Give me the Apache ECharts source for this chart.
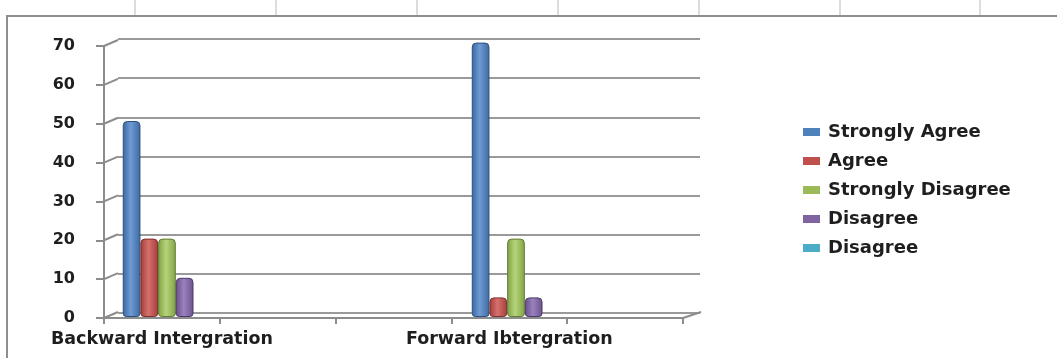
<!DOCTYPE html>
<html>
<head>
<meta charset="utf-8">
<script src="https://cdn.jsdelivr.net/npm/echarts@6/dist/echarts.min.js"></script>
<style>
html,body{margin:0;padding:0;background:#fff;}
#chart{width:1057px;height:358px;}
</style>
</head>
<body>
<div id="chart"></div>
<script>
// ---- data ----
var categories = ['Backward Intergration', '', '', 'Forward Ibtergration', ''];
var seriesNames = ['Strongly Agree', 'Agree', 'Strongly Disagree', 'Disagree', 'Disagree '];
var stronglyAgree    = [50, null, null, 70, null];
var agree            = [20, null, null, 5, null];
var stronglyDisagree = [20, null, null, 20, null];
var disagree         = [10, null, null, 5, null];
var disagree2        = [null, null, null, null, null];
var yTicks = [0, 10, 20, 30, 40, 50, 60, 70];

var colors = ['#4F81BD', '#C0504D', '#9BBB59', '#8064A2', '#4BACC6'];
var shades = [
  ['#3a679e', '#6e9ad6', '#3e6aa0', '#2c4f7c'],
  ['#a23d3a', '#d6706d', '#a53f3c', '#7f2e2c'],
  ['#80a044', '#b5d47a', '#83a347', '#627a33'],
  ['#674e88', '#9a82bf', '#6a518b', '#4c3a66'],
  ['#3792ab', '#6fc4da', '#3995ae', '#2a6f82']
];
var values = [stronglyAgree, agree, stronglyDisagree, disagree, disagree2];

var chart = echarts.init(document.getElementById('chart'));

var barSeries = values.map(function (arr, i) {
  return {
    name: seriesNames[i],
    type: 'bar',
    xAxisIndex: 2,
    yAxisIndex: 2,
    data: arr,
    barGap: '0%',
    barCategoryGap: '24%',
    z: 5,
    itemStyle: {
      color: new echarts.graphic.LinearGradient(0, 0, 1, 0, [
        {offset: 0, color: shades[i][0]},
        {offset: 0.45, color: shades[i][1]},
        {offset: 1, color: shades[i][2]}
      ]),
      borderColor: shades[i][3],
      borderWidth: 1,
      borderRadius: [4, 4, 3, 3]
    },
    emphasis: {disabled: true}
  };
});

var diagSeries = {
  type: 'custom',
  xAxisIndex: 0,
  yAxisIndex: 0,
  silent: true,
  clip: false,
  z: 3,
  data: yTicks.map(function (v) { return [0, v]; }),
  renderItem: function (params, api) {
    var cs = params.coordSys;
    var y = api.coord([0, api.value(1)])[1];
    var st = {stroke: '#8c8c8c', lineWidth: 2};
    var children = [{
      type: 'line',
      shape: {x1: cs.x, y1: y, x2: cs.x + 14, y2: y - 6},
      style: st
    }];
    if (api.value(1) === 0) {
      children.push({
        type: 'line',
        shape: {x1: cs.x + cs.width, y1: y, x2: cs.x + cs.width + 18, y2: y - 6},
        style: st
      });
    }
    return {type: 'group', children: children};
  }
};

var option = {
  animation: false,
  backgroundColor: '#fff',
  graphic: [
    {type: 'line', shape: {x1: 135, y1: 0, x2: 135, y2: 15}, style: {stroke: '#dcdcdc', lineWidth: 2}},
    {type: 'line', shape: {x1: 276, y1: 0, x2: 276, y2: 15}, style: {stroke: '#dcdcdc', lineWidth: 2}},
    {type: 'line', shape: {x1: 417, y1: 0, x2: 417, y2: 15}, style: {stroke: '#dcdcdc', lineWidth: 2}},
    {type: 'line', shape: {x1: 558, y1: 0, x2: 558, y2: 15}, style: {stroke: '#dcdcdc', lineWidth: 2}},
    {type: 'line', shape: {x1: 699, y1: 0, x2: 699, y2: 15}, style: {stroke: '#dcdcdc', lineWidth: 2}},
    {type: 'line', shape: {x1: 840, y1: 0, x2: 840, y2: 15}, style: {stroke: '#dcdcdc', lineWidth: 2}},
    {type: 'line', shape: {x1: 980, y1: 0, x2: 980, y2: 15}, style: {stroke: '#dcdcdc', lineWidth: 2}},
    {type: 'rect', shape: {x: 7, y: 16, width: 1070, height: 370}, style: {fill: 'none', stroke: '#8e8e8e', lineWidth: 2}, z: 0}
  ],
  legend: {
    orient: 'vertical',
    left: 803,
    top: 123,
    padding: 0,
    itemWidth: 17,
    itemHeight: 8,
    itemGap: 11,
    icon: 'rect',
    data: seriesNames.map(function (n, i) {
      return {name: n, itemStyle: {color: colors[i], borderWidth: 0}};
    }),
    formatter: function (n) { return n.trim(); },
    textStyle: {fontFamily: 'DejaVu Sans', fontSize: 18, fontWeight: 'bold', color: '#1e1e1e', lineHeight: 18, padding: [0, 0, 0, 3]},
    selectedMode: false
  },
  color: colors,
  grid: [
    {left: 104, top: 46, width: 579, height: 272},
    {left: 118, top: 39, width: 582, height: 274},
    {left: 108.8, top: 42.6, width: 581.7, height: 274.4}
  ],
  xAxis: [
    {
      type: 'category', gridIndex: 0, data: categories,
      axisLine: {lineStyle: {color: '#8c8c8c', width: 2}},
      axisTick: {show: true, length: 6, interval: 0, lineStyle: {color: '#8c8c8c', width: 2}},
      axisLabel: {interval: 0, margin: 12, color: '#1e1e1e', fontFamily: 'DejaVu Sans', fontSize: 17.5, fontWeight: 'bold'}
    },
    {type: 'category', gridIndex: 1, data: categories, show: false},
    {type: 'category', gridIndex: 2, data: categories, show: false}
  ],
  yAxis: [
    {
      type: 'value', gridIndex: 0, min: 0, max: 70, interval: 10,
      axisLine: {show: true, lineStyle: {color: '#8c8c8c', width: 2}},
      axisTick: {show: true, length: 8, lineStyle: {color: '#8c8c8c', width: 2}},
      splitLine: {show: false},
      axisLabel: {margin: 29, color: '#1e1e1e', fontFamily: 'DejaVu Sans', fontSize: 16, fontWeight: 'bold',
        formatter: function (v) { return yTicks.indexOf(v) >= 0 ? String(v) : ''; }}
    },
    {
      type: 'value', gridIndex: 1, min: 0, max: 70, interval: 10,
      axisLine: {show: false}, axisTick: {show: false}, axisLabel: {show: false},
      splitLine: {show: true, lineStyle: {color: '#9a9a9a', width: 2}}
    },
    {
      type: 'value', gridIndex: 2, min: 0, max: 70, interval: 10, show: false,
      splitLine: {show: false}
    }
  ],
  series: barSeries.concat([diagSeries])
};

chart.setOption(option);
</script>
</body>
</html>
